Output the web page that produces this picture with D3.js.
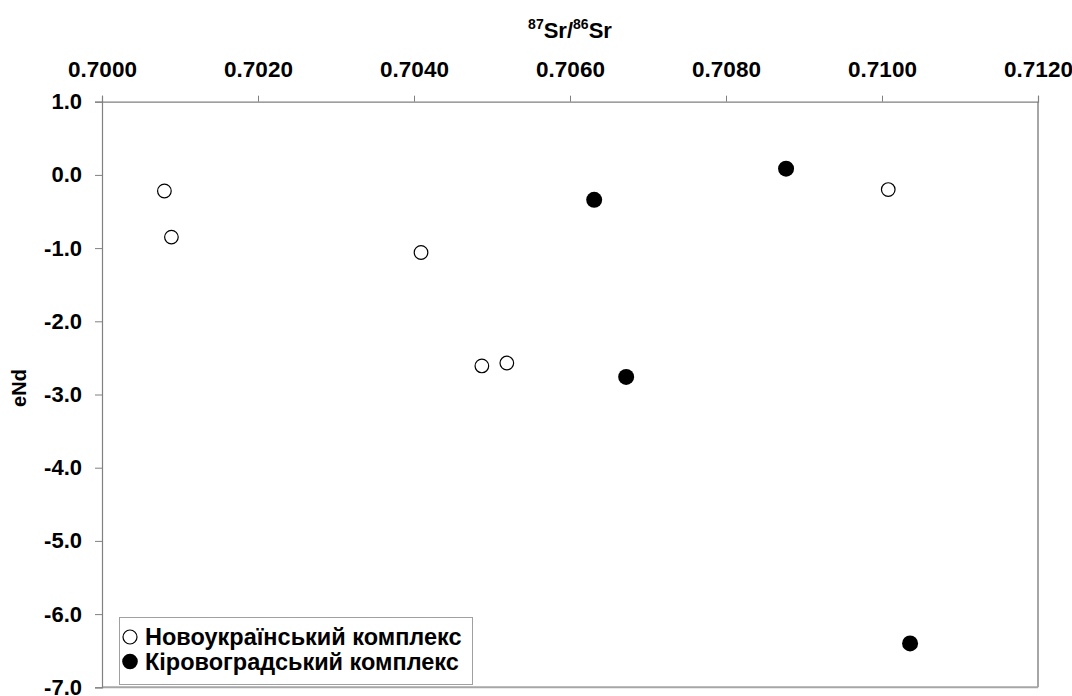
<!DOCTYPE html>
<html>
<head>
<meta charset="utf-8">
<script src="https://cdn.jsdelivr.net/npm/d3@7/dist/d3.min.js"></script>
<style>
  html, body { margin: 0; padding: 0; background: #fff; }
  svg { display: block; font-family: "Liberation Sans", Arial, sans-serif; }
</style>
</head>
<body>
<svg id="chart" width="1072" height="696"></svg>
<script>
// ---- data ----
const novoSr  = [0.70080, 0.70089, 0.70409, 0.70487, 0.70519, 0.71008];
const novoNd  = [-0.22, -0.85, -1.06, -2.61, -2.57, -0.20];
const kirSr   = [0.70631, 0.70672, 0.70877, 0.71036];
const kirNd   = [-0.34, -2.76, 0.085, -6.40];
const xTicks  = [0.7000, 0.7020, 0.7040, 0.7060, 0.7080, 0.7100, 0.7120];
const yTicks  = [1, 0, -1, -2, -3, -4, -5, -6, -7];
const seriesNames = ["Новоукраїнський комплекс", "Кіровоградський комплекс"];
const yLabel = "eNd";

// ---- layout ----
const svg = d3.select("#chart");
const L = 102, R = 1038, T = 101.7, B = 687.3;
const x = d3.scaleLinear().domain([0.7000, 0.7120]).range([L, R]);
const y = d3.scaleLinear().domain([1, -7]).range([T, B]);
const FONT = "Liberation Sans, Arial, sans-serif";

// frame
svg.append("line").attr("x1", L).attr("x2", R).attr("y1", B).attr("y2", B)
   .attr("stroke", "#a6a6a6").attr("stroke-width", 2);
svg.append("line").attr("x1", R).attr("x2", R).attr("y1", T).attr("y2", B)
   .attr("stroke", "#a6a6a6").attr("stroke-width", 2);

// top axis
const xAxis = d3.axisTop(x).tickValues(xTicks).tickFormat(d3.format(".4f"))
  .tickSize(6).tickPadding(19);
const gx = svg.append("g").attr("transform", `translate(0,${T})`).call(xAxis);
gx.attr("font-size", 22).attr("font-family", FONT);
gx.select(".domain").attr("stroke", "#808080").attr("stroke-width", 1.2);
gx.selectAll(".tick line").attr("stroke", "#808080");
gx.selectAll(".tick text").attr("font-size", 22.5).attr("font-weight", "bold")
  .attr("fill", "#000");

// left axis
const yAxis = d3.axisLeft(y).tickValues(yTicks).tickFormat(d3.format(".1f"))
  .tickSize(7).tickPadding(13);
const gy = svg.append("g").attr("transform", `translate(${L},0)`).call(yAxis);
gy.attr("font-size", 22).attr("font-family", FONT);
gy.select(".domain").attr("stroke", "#808080").attr("stroke-width", 1.2);
gy.selectAll(".tick line").attr("stroke", "#808080");
gy.selectAll(".tick text").attr("font-size", 22).attr("font-weight", "bold")
  .attr("fill", "#000")
  .text(d => d3.format(".1f")(d).replace("−", "-"));

// x title with superscripts
const title = svg.append("text").attr("x", 570).attr("y", 38)
  .attr("text-anchor", "middle").attr("font-weight", "bold").attr("font-size", 22);
title.append("tspan").attr("font-size", 14).attr("dy", -9).text("87");
title.append("tspan").attr("dy", 9).text("Sr/");
title.append("tspan").attr("font-size", 14).attr("dy", -9).text("86");
title.append("tspan").attr("dy", 9).text("Sr");

// y title
svg.append("text").attr("transform", "translate(26,388) rotate(-90)")
  .attr("text-anchor", "middle").attr("font-weight", "bold").attr("font-size", 20)
  .text(yLabel);

// points
const novo = novoSr.map((v, i) => ({ x: v, y: novoNd[i] }));
const kir = kirSr.map((v, i) => ({ x: v, y: kirNd[i] }));
svg.append("g").selectAll("circle").data(novo).join("circle")
  .attr("cx", d => x(d.x)).attr("cy", d => y(d.y)).attr("r", 6.8)
  .attr("fill", "#fff").attr("stroke", "#000").attr("stroke-width", 1.2);
svg.append("g").selectAll("circle").data(kir).join("circle")
  .attr("cx", d => x(d.x)).attr("cy", d => y(d.y)).attr("r", 8)
  .attr("fill", "#000");

// legend
const lg = svg.append("g");
lg.append("rect").attr("x", 119.5).attr("y", 617.5).attr("width", 353).attr("height", 67)
  .attr("fill", "#fff").attr("stroke", "#a0a0a0").attr("stroke-width", 1);
lg.append("circle").attr("cx", 130).attr("cy", 637).attr("r", 7)
  .attr("fill", "#fff").attr("stroke", "#000").attr("stroke-width", 1.2);
lg.append("circle").attr("cx", 130).attr("cy", 661.5).attr("r", 7.8)
  .attr("fill", "#000");
lg.append("text").attr("x", 145).attr("y", 645).attr("font-size", 23.5)
  .attr("font-weight", "bold").text(seriesNames[0]);
lg.append("text").attr("x", 145).attr("y", 670).attr("font-size", 23.5)
  .attr("font-weight", "bold").text(seriesNames[1]);
</script>
</body>
</html>
